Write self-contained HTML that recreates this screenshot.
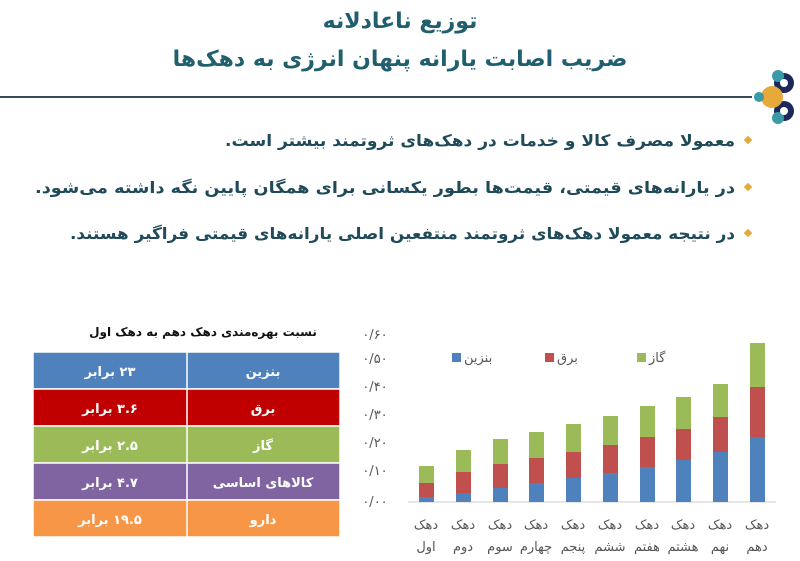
<!DOCTYPE html>
<html><head><meta charset="utf-8"><style>
body{margin:0;width:800px;height:557px;background:#fff;overflow:hidden;font-family:"DejaVu Sans","Liberation Sans",sans-serif}
</style></head><body>
<svg width="800" height="557" xmlns="http://www.w3.org/2000/svg" font-family="DejaVu Sans, sans-serif">
<text x="400" y="28" text-anchor="middle" direction="rtl" font-size="22" font-weight="bold" fill="#1f5f6e">توزیع ناعادلانه</text>
<text x="400" y="66" text-anchor="middle" direction="rtl" font-size="22" font-weight="bold" fill="#1f5f6e">ضریب اصابت یارانه پنهان انرژی به دهک‌ها</text>
<line x1="0" y1="97" x2="752" y2="97" stroke="#3a4a5a" stroke-width="2"/>
<g transform="translate(774,97)">
<circle cx="10" cy="-14" r="10" fill="#1b2a5a"/><circle cx="10" cy="14" r="10" fill="#1b2a5a"/>
<circle cx="-2" cy="0" r="11" fill="#e6a93a"/><circle cx="4" cy="-21" r="6" fill="#3a9aa8"/><circle cx="4" cy="21" r="6" fill="#3a9aa8"/>
<circle cx="-15" cy="0" r="5" fill="#3a9aa8"/><circle cx="10" cy="-14" r="4" fill="#fff"/><circle cx="10" cy="14" r="4" fill="#fff"/>
</g>
<g font-size="16" font-weight="bold" fill="#1f4a5a" text-anchor="start" direction="rtl">
<text x="735" y="146" textLength="510" lengthAdjust="spacingAndGlyphs">معمولا مصرف کالا و خدمات در دهک‌های ثروتمند بیشتر است.</text>
<text x="735" y="193" textLength="700" lengthAdjust="spacingAndGlyphs">در یارانه‌های قیمتی، قیمت‌ها بطور یکسانی برای همگان پایین نگه داشته می‌شود.</text>
<text x="735" y="239" textLength="665" lengthAdjust="spacingAndGlyphs">در نتیجه معمولا دهک‌های ثروتمند منتفعین اصلی یارانه‌های قیمتی فراگیر هستند.</text>
</g>
<g fill="#e6a93a"><rect x="745" y="137" width="6" height="6" transform="rotate(45 748 140)"/><rect x="745" y="184" width="6" height="6" transform="rotate(45 748 187)"/><rect x="745" y="230" width="6" height="6" transform="rotate(45 748 233)"/></g>
<text x="203" y="336" text-anchor="middle" direction="rtl" font-size="12" font-weight="bold" fill="#111">نسبت بهره‌مندی دهک دهم به دهک اول</text>
<g stroke="#fff" stroke-width="1.5">
<rect x="33" y="352" width="307" height="37" fill="#4f81bd"/>
<rect x="33" y="389" width="307" height="37" fill="#c00000"/>
<rect x="33" y="426" width="307" height="37" fill="#9bbb59"/>
<rect x="33" y="463" width="307" height="37" fill="#8064a2"/>
<rect x="33" y="500" width="307" height="37" fill="#f79646"/>
<line x1="187" y1="352" x2="187" y2="537"/>
</g>
<g font-size="13" font-weight="bold" fill="#fff" text-anchor="middle" direction="rtl">
<text x="263" y="376">بنزین</text><text x="110" y="376">۲۳ برابر</text>
<text x="263" y="413">برق</text><text x="110" y="413">۳.۶ برابر</text>
<text x="263" y="450">گاز</text><text x="110" y="450">۲.۵ برابر</text>
<text x="263" y="487">کالاهای اساسی</text><text x="110" y="487">۴.۷ برابر</text>
<text x="263" y="524">دارو</text><text x="110" y="524">۱۹.۵ برابر</text>
</g>
<g font-size="13" fill="#555" text-anchor="middle">
<text x="375" y="339">۰/۶۰</text><text x="375" y="363">۰/۵۰</text><text x="375" y="391">۰/۴۰</text><text x="375" y="419">۰/۳۰</text><text x="375" y="447">۰/۲۰</text><text x="375" y="475">۰/۱۰</text><text x="375" y="506">۰/۰۰</text>
</g>
<line x1="408" y1="502" x2="776" y2="502" stroke="#ccc"/>
<g>
<rect x="419" y="497" width="15" height="5" fill="#4f81bd"/><rect x="419" y="483" width="15" height="14" fill="#c0504d"/><rect x="419" y="466" width="15" height="17" fill="#9bbb59"/>
<rect x="456" y="493" width="15" height="9" fill="#4f81bd"/><rect x="456" y="472" width="15" height="21" fill="#c0504d"/><rect x="456" y="450" width="15" height="22" fill="#9bbb59"/>
<rect x="493" y="488" width="15" height="14" fill="#4f81bd"/><rect x="493" y="464" width="15" height="24" fill="#c0504d"/><rect x="493" y="439" width="15" height="25" fill="#9bbb59"/>
<rect x="529" y="483" width="15" height="19" fill="#4f81bd"/><rect x="529" y="458" width="15" height="25" fill="#c0504d"/><rect x="529" y="432" width="15" height="26" fill="#9bbb59"/>
<rect x="566" y="478" width="15" height="24" fill="#4f81bd"/><rect x="566" y="452" width="15" height="26" fill="#c0504d"/><rect x="566" y="424" width="15" height="28" fill="#9bbb59"/>
<rect x="603" y="473" width="15" height="29" fill="#4f81bd"/><rect x="603" y="445" width="15" height="28" fill="#c0504d"/><rect x="603" y="416" width="15" height="29" fill="#9bbb59"/>
<rect x="640" y="467" width="15" height="35" fill="#4f81bd"/><rect x="640" y="437" width="15" height="30" fill="#c0504d"/><rect x="640" y="406" width="15" height="31" fill="#9bbb59"/>
<rect x="676" y="460" width="15" height="42" fill="#4f81bd"/><rect x="676" y="429" width="15" height="31" fill="#c0504d"/><rect x="676" y="397" width="15" height="32" fill="#9bbb59"/>
<rect x="713" y="452" width="15" height="50" fill="#4f81bd"/><rect x="713" y="417" width="15" height="35" fill="#c0504d"/><rect x="713" y="384" width="15" height="33" fill="#9bbb59"/>
<rect x="750" y="437" width="15" height="65" fill="#4f81bd"/><rect x="750" y="387" width="15" height="50" fill="#c0504d"/><rect x="750" y="343" width="15" height="44" fill="#9bbb59"/>
</g>
<rect x="452" y="353" width="9" height="9" fill="#4f81bd"/><text x="464" y="362" font-size="13" fill="#555">بنزین</text>
<rect x="545" y="353" width="9" height="9" fill="#c0504d"/><text x="557" y="362" font-size="13" fill="#555">برق</text>
<rect x="637" y="353" width="9" height="9" fill="#9bbb59"/><text x="649" y="362" font-size="13" fill="#555">گاز</text>
<g font-size="13" fill="#555" text-anchor="middle" direction="rtl">
<text x="426" y="529">دهک</text><text x="426" y="551">اول</text>
<text x="463" y="529">دهک</text><text x="463" y="551">دوم</text>
<text x="500" y="529">دهک</text><text x="500" y="551">سوم</text>
<text x="536" y="529">دهک</text><text x="536" y="551">چهارم</text>
<text x="573" y="529">دهک</text><text x="573" y="551">پنجم</text>
<text x="610" y="529">دهک</text><text x="610" y="551">ششم</text>
<text x="647" y="529">دهک</text><text x="647" y="551">هفتم</text>
<text x="683" y="529">دهک</text><text x="683" y="551">هشتم</text>
<text x="720" y="529">دهک</text><text x="720" y="551">نهم</text>
<text x="757" y="529">دهک</text><text x="757" y="551">دهم</text>
</g>
</svg>
</body></html>
